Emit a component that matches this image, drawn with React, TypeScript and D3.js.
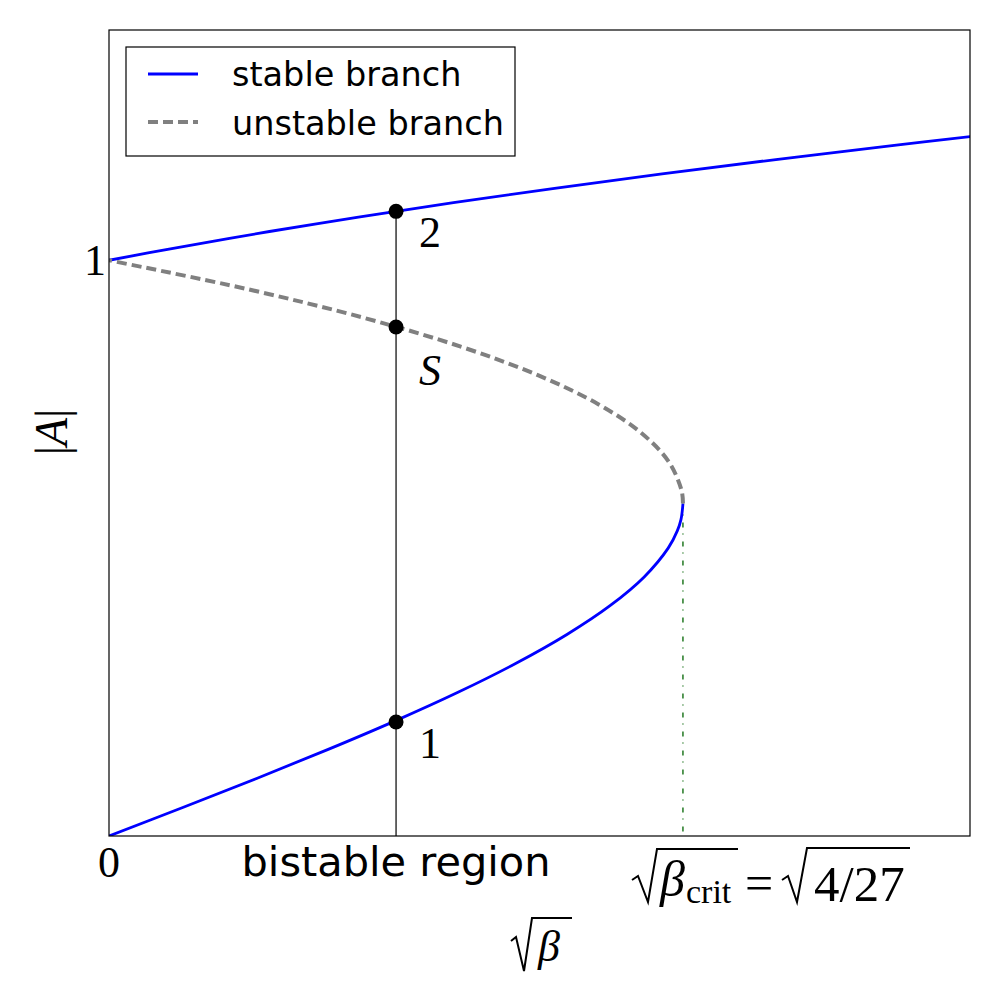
import React from "react";
import * as d3 from "d3";

// Branches as (sqrt(beta), |A|) pairs
const stableLower: [number, number][] = [
  [0, 0], [0.0499, 0.05], [0.099, 0.1], [0.1466, 0.15], [0.192, 0.2], [0.2344, 0.25],
  [0.273, 0.3], [0.3071, 0.35], [0.336, 0.4], [0.3589, 0.45], [0.375, 0.5],
  [0.3811, 0.53], [0.3836, 0.55], [0.3849, 0.5774],
];
const unstable: [number, number][] = [
  [0.3849, 0.5774], [0.384, 0.6], [0.3754, 0.65], [0.357, 0.7], [0.3281, 0.75],
  [0.288, 0.8], [0.2359, 0.85], [0.171, 0.9], [0.0926, 0.95], [0, 1.0],
];
const stableUpper: [number, number][] = [
  [0, 1.0], [0.0412, 1.02], [0.1076, 1.05], [0.1673, 1.075], [0.231, 1.1], [0.2988, 1.125],
  [0.3709, 1.15], [0.4472, 1.175], [0.528, 1.2], [0.5786, 1.215],
];
const bistableX = 0.1925;
const bistablePoints: number[] = [0.198, 0.884, 1.085];
const pointLabels: string[] = ["1", "S", "2"];
const critX = 0.3849;
const critA = 0.5774;
const xDomain: [number, number] = [0, 0.5774];
const yDomain: [number, number] = [0, 1.4];
const legendItems: string[] = ["stable branch", "unstable branch"];

const W = 1000, H = 1000;
const L = 109, R = 970, T = 30, B = 836;
const serif = "'Liberation Serif', 'DejaVu Serif', serif";
const sans = "'DejaVu Sans', sans-serif";

export default function App() {
  const x = d3.scaleLinear().domain(xDomain).range([L, R]);
  const y = d3.scaleLinear().domain(yDomain).range([B, T]);
  const line = d3
    .line<[number, number]>()
    .x((d) => x(d[0]))
    .y((d) => y(d[1]))
    .curve(d3.curveCatmullRom.alpha(0.5));

  return (
    <svg width={W} height={H} style={{ display: "block", position: "absolute", left: 0, top: 0 }}>
      <rect x={0} y={0} width={W} height={H} fill="white" />
      <defs>
        <clipPath id="plot">
          <rect x={L} y={T} width={R - L} height={B - T} />
        </clipPath>
      </defs>
      <g clipPath="url(#plot)">
        <line x1={x(bistableX)} x2={x(bistableX)} y1={y(0)} y2={y(bistablePoints[2])} stroke="black" strokeWidth={1.2} />
        <line x1={x(critX)} x2={x(critX)} y1={y(critA)} y2={y(0)} stroke="#006400" strokeWidth={1.3} strokeDasharray="5,6,1,7" />
        <path d={line(stableLower) || ""} fill="none" stroke="#0000ff" strokeWidth={2.8} />
        <path d={line(stableUpper) || ""} fill="none" stroke="#0000ff" strokeWidth={2.8} />
        <path d={line(unstable) || ""} fill="none" stroke="#808080" strokeWidth={4} strokeDasharray="10,5" />
      </g>
      {bistablePoints.map((a, i) => (
        <g key={i}>
          <circle cx={x(bistableX)} cy={y(a)} r={7.5} fill="black" />
          <text
            x={x(bistableX) + 23}
            y={y(a) + (i === 1 ? 58 : 36)}
            fontFamily={serif}
            fontStyle={i === 1 ? "italic" : "normal"}
            fontSize={44}
            fill="black"
          >
            {pointLabels[i]}
          </text>
        </g>
      ))}
      <rect x={L} y={T} width={R - L} height={B - T} fill="none" stroke="black" strokeWidth={1.2} />
      <text x={L - 3} y={y(1) + 15} textAnchor="end" fontFamily={serif} fontSize={44}>1</text>
      <text x={x(0)} y={B + 41} textAnchor="middle" fontFamily={serif} fontSize={44}>0</text>
      <text x={x(bistableX)} y={B + 40} textAnchor="middle" fontFamily={sans} fontSize={41.5}>bistable region</text>
      <g fontFamily={serif} fill="black">
        <path d="M632,880 L638,876 L648,902 L657,849 L738,849" fill="none" stroke="black" strokeWidth={2} />
        <text x={660} y={896} fontSize={50} fontStyle="italic">β</text>
        <text x={686} y={903} fontSize={34}>crit</text>
        <text x={745} y={900} fontSize={50}>=</text>
        <path d="M782,880 L788,876 L797,902 L807,848 L910,848" fill="none" stroke="black" strokeWidth={2} />
        <text x={814} y={901} fontSize={51}>4/27</text>
      </g>
      <g fontFamily={serif} fill="black">
        <path d="M511,941 L516,937 L524,971 L532,918 L572,918" fill="none" stroke="black" strokeWidth={2} />
        <text x={538} y={961} fontSize={44} fontStyle="italic">β</text>
      </g>
      <text
        transform={`translate(67,432) rotate(-90)`}
        textAnchor="middle"
        fontFamily={serif}
        fontSize={46}
      >
        |<tspan fontStyle="italic">A</tspan>|
      </text>
      <rect x={126} y={47} width={389} height={109} fill="white" stroke="black" strokeWidth={1.2} />
      <line x1={148} x2={198} y1={74} y2={74} stroke="#0000ff" strokeWidth={2.8} />
      <line x1={148} x2={198} y1={122} y2={122} stroke="#808080" strokeWidth={4} strokeDasharray="10,5" />
      <text x={232} y={86} fontFamily={sans} fontSize={33.5}>{legendItems[0]}</text>
      <text x={232} y={135} fontFamily={sans} fontSize={33.5}>{legendItems[1]}</text>
    </svg>
  );
}
